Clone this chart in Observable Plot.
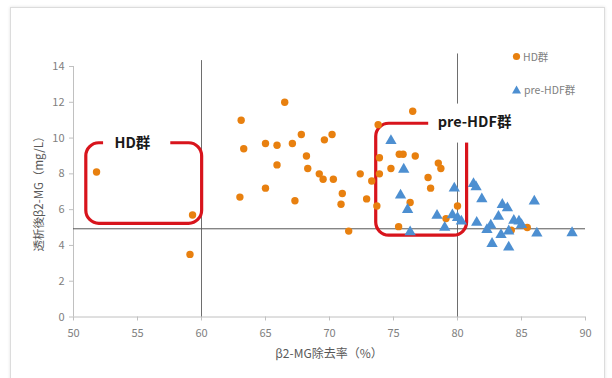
<!DOCTYPE html>
<html><head><meta charset="utf-8">
<script src="https://cdn.jsdelivr.net/npm/d3@7"></script>
<script src="https://cdn.jsdelivr.net/npm/@observablehq/plot@0.6"></script>
<style>
body{margin:0;background:#fff;}
#wrap{position:relative;width:612px;height:378px;overflow:hidden;font-family:'Noto Sans CJK JP','Noto Sans',sans-serif;}
#frame{position:absolute;left:10px;top:7px;width:595px;height:380px;border:1px solid #dcdcdc;box-shadow:0 0 3px rgba(0,0,0,0.12);box-sizing:border-box;}
#chart{position:absolute;left:0;top:0;}
.t{position:absolute;color:#595959;white-space:nowrap;}
#xt{left:329px;top:352px;transform:translate(-50%,-50%);font-size:12px;}
#yt{left:38px;top:191px;transform:translate(-50%,-50%) rotate(-90deg);font-size:11.5px;}
.lg{position:absolute;font-size:10.5px;color:#7f7f7f;display:flex;align-items:center;}
</style></head><body>
<div id="wrap"><div id="frame"></div><div id="chart"></div>
<div class="t" id="xt">β2-MG除去率（%）</div>
<div class="t" id="yt">透析後β2-MG（mg/L）</div>
<div class="lg" style="left:511px;top:49px;"><svg width="11" height="11"><circle cx="5.5" cy="5.5" r="3.6" fill="#e8800f"/></svg><span style="margin-left:1px">HD群</span></div>
<div class="lg" style="left:511px;top:82px;"><svg width="11" height="11"><path d="M5.5,1.5 L10,9.5 L1,9.5 Z" fill="#4d8fd1"/></svg><span style="margin-left:2px">pre-HDF群</span></div>
</div>
<script>
// HD群 (orange circles)
const hdX = [51.8,59.3,59.1,63.0,63.1,63.3,65.0,65.9,65.9,65.0,66.5,67.1,67.8,67.3,68.2,68.3,69.2,69.5,69.6,70.2,70.3,71.0,70.9,71.5,72.4,72.9,73.3,73.7,73.8,73.9,73.9,74.8,75.45,75.75,75.4,76.3,76.5,76.7,77.7,77.9,78.5,78.7,79.1,80.0,84.2,85.45];
const hdY = [8.1,5.7,3.5,6.7,11.0,9.4,9.7,9.6,8.5,7.2,12.0,9.7,10.2,6.5,9.0,8.3,8.0,7.7,9.9,10.2,7.7,6.9,6.3,4.8,8.0,6.6,7.6,6.2,10.75,8.9,8.0,8.3,9.1,9.1,5.05,6.4,11.5,9.0,7.8,7.2,8.6,8.3,5.5,6.2,4.85,5.0];
// pre-HDF群 (blue triangles)
const phX = [74.8,75.8,75.55,76.1,76.3,78.4,79.0,79.75,79.6,80.0,80.3,81.25,81.45,81.9,81.5,82.6,82.3,82.7,83.2,83.5,83.9,83.4,84.0,84.0,84.4,84.8,85.0,86.0,86.2,88.95];
const phY = [9.85,8.25,6.8,6.0,4.75,5.67,5.0,7.2,5.7,5.55,5.35,7.45,7.27,6.6,5.28,5.13,4.88,4.1,5.62,6.28,6.09,4.6,3.9,4.8,5.39,5.35,5.15,6.47,4.68,4.7];
// axes
const xTicks = [50,55,60,65,70,75,80,85,90];
const yTicks = [0,2,4,6,8,10,12,14];
// reference lines
const vLineX = [60,80];
const vLineTop = [14.33,14.7];
const hLineY = 4.93;
// annotation boxes
const boxX1 = [51.0,73.65];
const boxX2 = [60.05,80.75];
const boxY1 = [5.21,4.55];
const boxY2 = [9.71,10.8];
// labels
const hdLabel = {text:"HD群", x:54.6, y:9.71};
const phLabel = {text:"pre-HDF群", x:78.45, y:10.87};
// white gaps behind labels
const gapX1 = [52.35,77.75];
const gapX2 = [57.6,84.3];
const gapY1 = [9.2,9.72];
const gapY2 = [10.4,11.9];

const hd = hdX.map((x,i)=>({x,y:hdY[i]}));
const ph = phX.map((x,i)=>({x,y:phY[i]}));
const vl = vLineX.map((x,i)=>({x,top:vLineTop[i]}));
const boxes = boxX1.map((v,i)=>({x1:v,x2:boxX2[i],y1:boxY1[i],y2:boxY2[i]}));
const gaps = gapX1.map((v,i)=>({x1:v,x2:gapX2[i],y1:gapY1[i],y2:gapY2[i]}));

const plot = Plot.plot({
  width:612, height:378,
  marginLeft:73, marginRight:27, marginTop:66, marginBottom:61.5,
  x:{domain:[50,90], label:null},
  y:{domain:[0,14], label:null},
  style:{fontFamily:"'Noto Sans CJK JP','Noto Sans',sans-serif", fontSize:"11px", background:"transparent", overflow:"visible"},
  marks:[
    Plot.ruleY([0], {x1:50, x2:90, stroke:"#c0c0c0"}),
    Plot.ruleX([50], {y1:0, y2:14, stroke:"#c0c0c0"}),
    Plot.axisX({ticks:xTicks, tickSize:4, tickPadding:8, stroke:"#c0c0c0", fill:"#808080", label:null, fontSize:11}),
    Plot.axisY({ticks:yTicks, tickSize:4, tickPadding:5, stroke:"#c0c0c0", fill:"#808080", label:null, fontSize:11}),
    Plot.ruleX(vl, {x:"x", y1:0, y2:"top", stroke:"#6e6e6e", strokeWidth:1}),
    Plot.ruleY([hLineY], {x1:50, x2:90, stroke:"#555", strokeWidth:1}),
    Plot.rect(boxes, {x1:"x1", x2:"x2", y1:"y1", y2:"y2", fill:"none", stroke:"#d8141c", strokeWidth:3.2, rx:13}),
    Plot.rect(gaps, {x1:"x1", x2:"x2", y1:"y1", y2:"y2", fill:"#ffffff", stroke:"none"}),
    Plot.text([hdLabel], {x:"x", y:"y", text:"text", textAnchor:"middle", fontSize:14.5, fontWeight:"bold", fill:"#1a1a1a"}),
    Plot.text([phLabel], {x:"x", y:"y", text:"text", textAnchor:"start", fontSize:14.5, fontWeight:"bold", fill:"#1a1a1a"}),
    Plot.dot(hd, {x:"x", y:"y", r:3.7, fill:"#e8800f", symbol:"circle"}),
    Plot.dot(ph, {x:"x", y:"y", r:4.2, fill:"#4d8fd1", symbol:"triangle"})
  ]
});
document.getElementById("chart").appendChild(plot);
</script>
</body></html>
